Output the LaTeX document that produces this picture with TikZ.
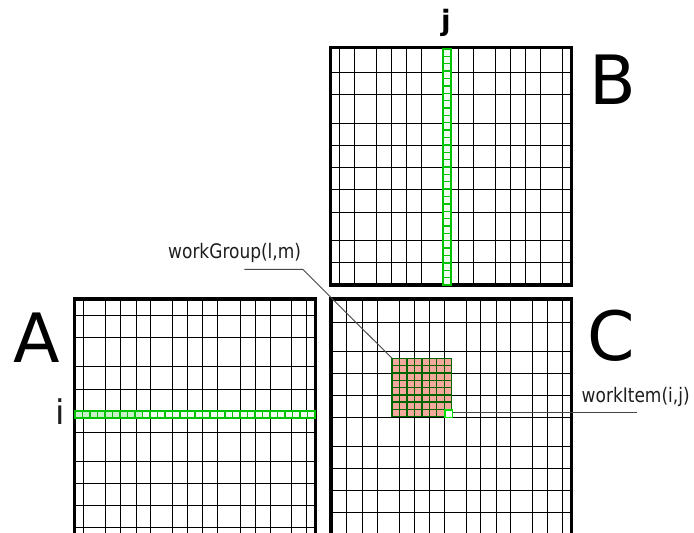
\documentclass[tikz,border=0pt]{standalone}
\usepackage{fontspec}
\setmainfont{DejaVu Sans}
\newfontfamily\condfont[FakeStretch=0.85]{DejaVu Sans}
\definecolor{stripgreen}{RGB}{0,195,0}
\definecolor{stripfill}{RGB}{240,252,240}
\definecolor{stripfillB}{RGB}{200,240,200}
\definecolor{wgfill}{RGB}{244,168,158}
\definecolor{wgline}{RGB}{0,100,0}
\definecolor{itemgreen}{RGB}{0,225,0}
\definecolor{leader}{RGB}{70,70,70}
\definecolor{labeltext}{RGB}{30,30,30}
\begin{document}
\begin{tikzpicture}[x=1pt,y=-1pt,
  gridline/.style={line width=1.6pt, black},
  frame/.style={line width=3.5pt, black},
  stripcell/.style={draw=stripgreen, line width=1.3pt},
  stripframe/.style={draw=stripgreen, line width=1.7pt},
  wgcell/.style={draw=wgline, fill=wgfill, line width=1.4pt},
  itemcell/.style={draw=itemgreen, fill=white, line width=1.4pt},
  leaderline/.style={draw=leader, line width=0.9pt},
  biglabel/.style={inner sep=0pt, anchor=base west, font=\fontsize{68}{68}\selectfont},
  smalllabel/.style={inner sep=0pt, anchor=base west, text=labeltext, font=\condfont\fontsize{20}{20}\selectfont}]
\useasboundingbox (0,0) rectangle (694,533);
\fill[white] (0,0) rectangle (694,533);
\begin{scope}
\clip (0,0) rectangle (694,533);
% ---------- matrix A ----------
\foreach \x in {83.5,105.5,120.5,136.5,150.5,172.5,187.5,202.5,217.5,240.5,255.5,270.5,291.5,306.5}
  \draw[gridline] (\x,299) -- (\x,560);
\foreach \y in {315.5,337.5,366.5,389.5,411.5,432.5,461.5,483.5,505.5,527.5,550.5}
  \draw[gridline] (74.3,\y) -- (315.3,\y);
\draw[frame] (74.3,560) -- (74.3,299) -- (315.3,299) -- (315.3,560);
% ---------- matrix B ----------
\foreach \x in {339.5,354.5,376.5,391.5,406.5,421.5,443.5,458.5,473.5,495.5,510.5,525.5,540.5,562.5}
  \draw[gridline] (\x,47.7) -- (\x,285);
\foreach \y in {72.5,94.5,123.5,145.5,167.5,189.5,212.5,240.5,262.5}
  \draw[gridline] (330.7,\y) -- (571.7,\y);
\draw[frame] (330.7,47.7) rectangle (571.7,285);
% ---------- matrix C ----------
\foreach \x in {346.5,362.5,377.5,399.5,414.5,429.5,444.5,466.5,480.5,496.5,510.5,532.5,547.5,562.5}
  \draw[gridline] (\x,299) -- (\x,560);
\foreach \y in {322.5,351.5,373.5,395.5,417.5,446.5,468.5,490.5,512.5,534.5}
  \draw[gridline] (331,\y) -- (571.7,\y);
\draw[frame] (331,560) -- (331,299) -- (571.7,299) -- (571.7,560);
% ---------- row i of A ----------
\foreach \k in {0,...,31}{
  \pgfmathsetmacro{\xa}{75+7.5*\k}
  \pgfmathsetmacro{\xb}{75+7.5*(\k+1)}
  \ifnum\k<9
    \path[stripcell, fill=stripfillB] (\xa,410.7) rectangle (\xb,417.7);
  \else
    \path[stripcell, fill=stripfill] (\xa,410.7) rectangle (\xb,417.7);
  \fi
}
\path[stripframe] (75,410.7) rectangle (315,417.7);
% ---------- column j of B ----------
\foreach \k in {0,...,31}{
  \pgfmathsetmacro{\ya}{49+7.375*\k}
  \pgfmathsetmacro{\yb}{49+7.375*(\k+1)}
  \path[stripcell, fill=stripfill] (443.3,\ya) rectangle (450.7,\yb);
}
\path[stripframe] (443.3,49) rectangle (450.7,285);
% ---------- work group in C ----------
\foreach \r in {0,...,7}
  \foreach \c in {0,...,7}{
    \pgfmathsetmacro{\xa}{392+7.4625*\c}
    \pgfmathsetmacro{\xb}{392+7.4625*(\c+1)}
    \pgfmathsetmacro{\ya}{358.3+7.3*\r}
    \pgfmathsetmacro{\yb}{358.3+7.3*(\r+1)}
    \path[wgcell] (\xa,\ya) rectangle (\xb,\yb);
  }
\node[itemcell, draw, inner sep=0pt, minimum width=7.4pt, minimum height=7.3pt, anchor=north west] (item) at (444.3,409.4) {};
\coordinate (wgcorner) at (392,358.3);
% ---------- leaders and labels ----------
\coordinate (wgA) at (244.3,269.3);
\coordinate (wgB) at (302.7,269.3);
\draw[leaderline] (wgA) -- (wgB) -- (wgcorner);
\coordinate (wiEnd) at (636.7,412.3);
\draw[leaderline] (item.east |- wiEnd) -- (wiEnd);
\node[smalllabel] (wglabel) at (168,258.3) {workGroup(l,m)};
\node[smalllabel] (wilabel) at (581.5,402.5) {workItem(i,j)};
\node[biglabel] (lblA) at (13.5,362) {A};
\node[biglabel] (lblB) at (589,104) {B};
\node[biglabel] (lblC) at (587,360) {C};
\node[inner sep=0pt, anchor=base, font=\bfseries\fontsize{28}{28}\selectfont] (lblj) at (446,30.5) {j};
\node[inner sep=0pt, anchor=base, text=labeltext, font=\fontsize{34}{34}\selectfont] (lbli) at (60.3,424.5) {i};
\end{scope}
\end{tikzpicture}
\end{document}
